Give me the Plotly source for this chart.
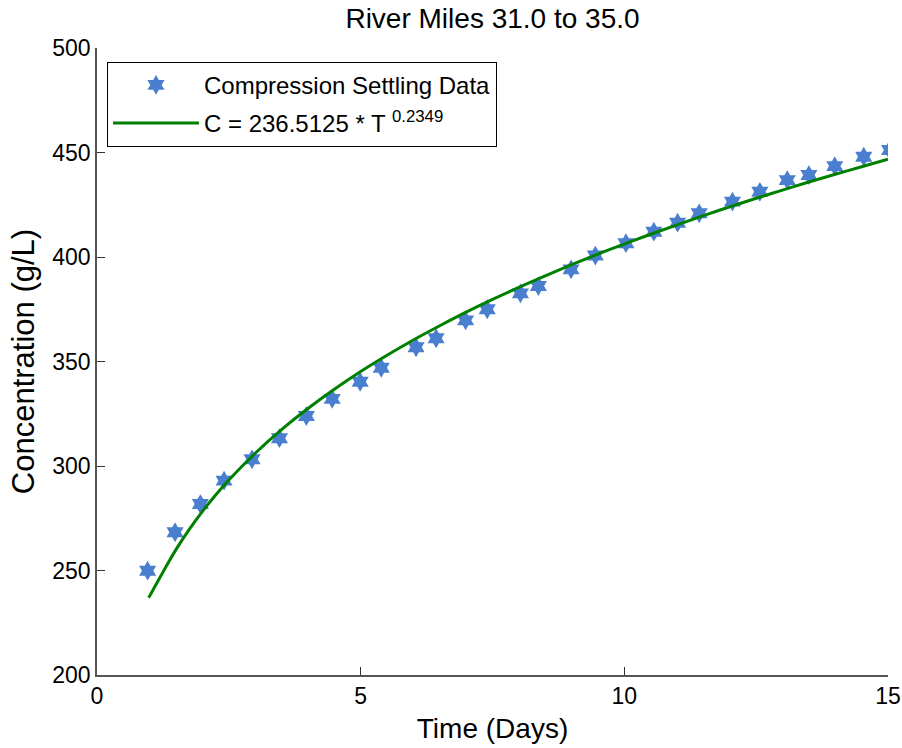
import plotly.graph_objects as go

# Compression settling data
days = [0.96, 1.48, 1.96, 2.41, 2.94, 3.46, 3.97, 4.46, 4.99, 5.39,
        6.05, 6.43, 6.99, 7.40, 8.03, 8.37, 8.99, 9.45, 10.03, 10.56,
        11.01, 11.42, 12.05, 12.57, 13.09, 13.50, 13.99, 14.54, 15.03]
conc = [249.9, 268.3, 281.8, 293.0, 303.2, 313.3, 323.9, 332.1, 340.3, 347.0,
        356.8, 361.1, 369.7, 375.0, 382.6, 386.1, 394.1, 400.7, 406.6, 412.1,
        416.4, 420.9, 426.5, 431.2, 436.8, 439.2, 443.5, 448.0, 451.2]

# Fitted curve
fit_days = [0.98, 1.25, 1.5, 1.75, 2.0, 2.25, 2.5, 3.0, 3.5, 4.0, 4.5, 5.0, 5.5,
            6.0, 6.5, 7.0, 7.5, 8.0, 8.5, 9.0, 9.5, 10.0, 10.5, 11.0, 11.5,
            12.0, 12.5, 13.0, 13.5, 14.0, 14.5, 15.0]
fit_conc = [237.0, 249.2, 260.1, 269.7, 278.3, 286.1, 293.3, 306.1, 317.4, 327.5,
            336.7, 345.2, 353.0, 360.3, 367.1, 373.6, 379.7, 385.5, 391.0, 396.3,
            401.4, 406.2, 410.9, 415.4, 419.8, 424.0, 428.1, 432.0, 435.9, 439.6,
            443.2, 446.8]

x_ticks = [0, 5, 10, 15]
y_ticks = [200, 250, 300, 350, 400, 450, 500]

FONT = "Liberation Sans, Arial, sans-serif"

fig = go.Figure()
fig.add_trace(go.Scatter(
    x=days, y=conc, mode="markers", name="Compression Settling Data",
    legendgroup="data",
    marker=dict(symbol="hexagram", size=15, color="#4a7fd0",
                line=dict(width=0)),
))
fig.add_trace(go.Scatter(
    x=fit_days, y=fit_conc, mode="lines",
    name="C = 236.5125 * T <sup>0.2349</sup>",
    legendgroup="fit",
    line=dict(color="#008000", width=3, shape="spline"),
))

fig.update_layout(
    width=902, height=748,
    margin=dict(l=97, r=14, t=48, b=73, autoexpand=False),
    paper_bgcolor="white", plot_bgcolor="white",
    font=dict(family=FONT, color="black", size=21),
    title=dict(text="River Miles 31.0 to 35.0", xref="paper", x=0.5,
               xanchor="center", yref="container", y=0.976, yanchor="middle",
               font=dict(size=28, color="black")),
    legend=dict(x=0.0126, y=0.978, xanchor="left", yanchor="top",
                bordercolor="black", borderwidth=1, bgcolor="white",
                font=dict(size=24, color="black"), itemwidth=86,
                tracegroupgap=4),
    showlegend=True,
)
fig.update_xaxes(
    range=[0, 15], tickvals=x_ticks, ticks="inside", ticklen=8,
    tickcolor="#333333", showline=True, linecolor="#555555", linewidth=1.5,
    showgrid=False, zeroline=False, mirror=False, automargin=False,
    tickfont=dict(size=23),
    title=dict(text="Time (Days)", font=dict(size=28), standoff=10),
)
fig.update_yaxes(
    range=[200, 500], tickvals=y_ticks, ticks="inside", ticklen=8,
    tickcolor="#333333", showline=True, linecolor="#555555", linewidth=1.5,
    showgrid=False, zeroline=False, mirror=False, automargin=False,
    tickfont=dict(size=23),
    title=dict(text="Concentration (g/L)", font=dict(size=31), standoff=8),
)

fig.write_html(
    "out.html",
    config={"displayModeBar": False},
    post_script="document.body.style.margin='0';"
                "document.body.style.overflow='hidden';",
)
